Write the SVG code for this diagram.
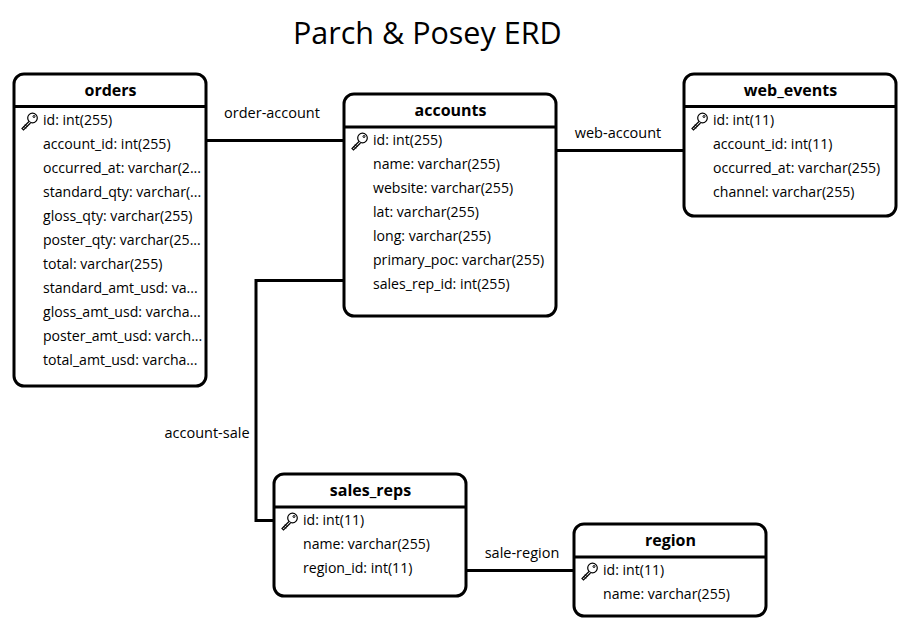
<svg xmlns="http://www.w3.org/2000/svg" width="910" height="630" viewBox="0 0 910 630">
<style>
text{font-family:"Open Sans","Noto Sans","Liberation Sans",sans-serif;fill:#000}
.t{font-size:30.500px}
.h{font-size:16px;font-weight:700;text-anchor:middle}
.r{font-size:14.100px}
.l{font-size:14.500px;text-anchor:middle}
.b{fill:#fff;stroke:#000;stroke-width:3}
.d,.c{fill:none;stroke:#000;stroke-width:3}
</style>
<defs>
<g id="key" fill="none" stroke="#000">
<circle cx="10.500" cy="-5" r="4.800" stroke-width="1.200" fill="#fff"/>
<circle cx="12" cy="-6.500" r="1" stroke-width="1"/>
<path d="M7-1.500 0 5.500l1.500 1.500 7-7" stroke-width="1.200" fill="#fff"/>
<path d="M1.500 3l2.500 2.500M3 1.500l2.500 2.500" stroke-width="1"/>
</g>
</defs>
<rect width="910" height="630" fill="#fff"/>
<text class="t" x="293" y="44">Parch &amp; Posey ERD</text>
<g id="connectors">
<path class="c" d="M206 140.500H344"/>
<path class="c" d="M556 150.500H684"/>
<path class="c" d="M344 280.500H256V520.500H274"/>
<path class="c" d="M466 570.500H574"/>
<text class="l" x="272" y="118">order-account</text>
<text class="l" x="618" y="138">web-account</text>
<text class="l" x="207" y="438">account-sale</text>
<text class="l" x="522" y="558">sale-region</text>
</g>
<g id="orders">
<rect class="b" x="14" y="74" width="192" height="312" rx="10"/>
<path class="d" d="M14 106.500H206"/>
<text class="h" x="110.500" y="96">orders</text>
<use href="#key" x="22" y="123"/>
<text class="r" x="43" y="125">id: int(255)</text>
<text class="r" x="43" y="149">account_id: int(255)</text>
<text class="r" x="43" y="173">occurred_at: varchar(2...</text>
<text class="r" x="43" y="197">standard_qty: varchar(...</text>
<text class="r" x="43" y="221">gloss_qty: varchar(255)</text>
<text class="r" x="43" y="245">poster_qty: varchar(25...</text>
<text class="r" x="43" y="269">total: varchar(255)</text>
<text class="r" x="43" y="293">standard_amt_usd: va...</text>
<text class="r" x="43" y="317">gloss_amt_usd: varcha...</text>
<text class="r" x="43" y="341">poster_amt_usd: varch...</text>
<text class="r" x="43" y="365">total_amt_usd: varcha...</text>
</g>
<g id="accounts">
<rect class="b" x="344" y="94" width="212" height="222" rx="10"/>
<path class="d" d="M344 127H556"/>
<text class="h" x="450.500" y="116">accounts</text>
<use href="#key" x="352" y="143"/>
<text class="r" x="373" y="145">id: int(255)</text>
<text class="r" x="373" y="169">name: varchar(255)</text>
<text class="r" x="373" y="193">website: varchar(255)</text>
<text class="r" x="373" y="217">lat: varchar(255)</text>
<text class="r" x="373" y="241">long: varchar(255)</text>
<text class="r" x="373" y="265">primary_poc: varchar(255)</text>
<text class="r" x="373" y="289">sales_rep_id: int(255)</text>
</g>
<g id="web_events">
<rect class="b" x="684" y="74" width="212" height="142" rx="10"/>
<path class="d" d="M684 106.500H896"/>
<text class="h" x="790.500" y="96">web_events</text>
<use href="#key" x="692" y="123"/>
<text class="r" x="713" y="125">id: int(11)</text>
<text class="r" x="713" y="149">account_id: int(11)</text>
<text class="r" x="713" y="173">occurred_at: varchar(255)</text>
<text class="r" x="713" y="197">channel: varchar(255)</text>
</g>
<g id="sales_reps">
<rect class="b" x="274" y="474" width="192" height="122" rx="10"/>
<path class="d" d="M274 507H466"/>
<text class="h" x="370.500" y="496">sales_reps</text>
<use href="#key" x="282" y="523"/>
<text class="r" x="303" y="525">id: int(11)</text>
<text class="r" x="303" y="549">name: varchar(255)</text>
<text class="r" x="303" y="573">region_id: int(11)</text>
</g>
<g id="region">
<rect class="b" x="574" y="524" width="192" height="92" rx="10"/>
<path class="d" d="M574 557H766"/>
<text class="h" x="670.500" y="546">region</text>
<use href="#key" x="582" y="573"/>
<text class="r" x="603" y="575">id: int(11)</text>
<text class="r" x="603" y="599">name: varchar(255)</text>
</g>
</svg>
